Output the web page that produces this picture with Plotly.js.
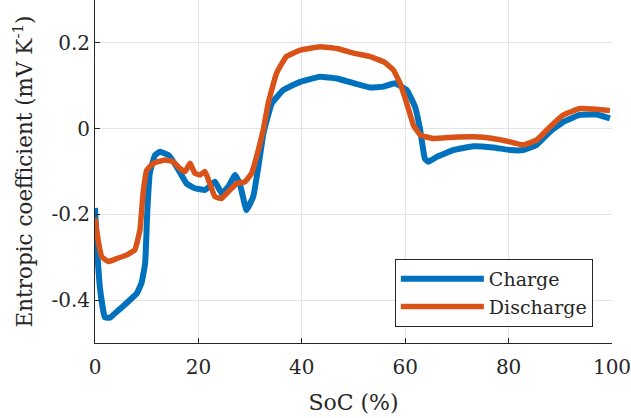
<!DOCTYPE html>
<html>
<head>
<meta charset="utf-8">
<script src="https://cdn.plot.ly/plotly-3.0.1.min.js"></script>
<style>html,body{margin:0;padding:0;background:#fff;}#chart{width:631px;height:418px;}</style>
</head>
<body>
<div id="chart"></div>
<script>
// Charge (blue)
const chargeSoC = [0, 0.3, 1, 1.9, 2.9, 4.2, 6.1, 8.1, 9, 9.7, 10.1, 10.6, 11.6, 12.6, 14.2, 15.8, 17.7, 19.3, 21.3, 23.2, 24.5, 25.8, 27.1, 28, 29.3, 30.6, 31.6, 32.6, 34.2, 36.4, 39.7, 43.5, 46.8, 50, 53.2, 55.8, 58, 60.3, 61.9, 62.9, 63.8, 64.5, 66.1, 69.3, 73.2, 77, 80.3, 82.8, 85.4, 88, 90.6, 93.8, 97, 99.6];
const chargeDS = [-0.185, -0.26, -0.376, -0.44, -0.441, -0.427, -0.407, -0.384, -0.36, -0.314, -0.197, -0.104, -0.062, -0.054, -0.062, -0.089, -0.128, -0.139, -0.143, -0.124, -0.151, -0.135, -0.108, -0.128, -0.19, -0.159, -0.089, -0.01, 0.059, 0.09, 0.109, 0.121, 0.117, 0.106, 0.096, 0.098, 0.106, 0.09, 0.051, -0.003, -0.07, -0.077, -0.066, -0.05, -0.041, -0.044, -0.05, -0.05, -0.038, -0.007, 0.016, 0.032, 0.033, 0.024];

// Discharge (orange)
const dischargeSoC = [0, 0.6, 1.3, 2.6, 4.2, 6.1, 7.7, 8.7, 9.3, 10, 11.3, 13.5, 15.1, 16.4, 17.4, 18.4, 19.3, 20.3, 21.3, 22.2, 23.2, 24.5, 25.8, 27.4, 29, 30.3, 31.6, 32.6, 33.5, 35.1, 37, 39.7, 43.5, 46.8, 50, 53.2, 55.8, 57.7, 59, 60.3, 61.6, 62.9, 65.4, 69.3, 73.2, 77, 80.3, 82.8, 85.4, 88, 90.6, 93.8, 97, 99.6];
const dischargeDS = [-0.209, -0.26, -0.299, -0.31, -0.303, -0.295, -0.283, -0.236, -0.151, -0.097, -0.081, -0.073, -0.077, -0.093, -0.1, -0.081, -0.104, -0.108, -0.1, -0.128, -0.159, -0.163, -0.147, -0.128, -0.124, -0.104, -0.05, 0.0, 0.059, 0.129, 0.168, 0.183, 0.191, 0.187, 0.176, 0.168, 0.156, 0.137, 0.106, 0.059, 0.008, -0.015, -0.023, -0.02, -0.019, -0.023, -0.031, -0.038, -0.027, 0.004, 0.032, 0.047, 0.045, 0.042];

const seriesNames = ['Charge', 'Discharge'];
const xTicks = [0, 20, 40, 60, 80, 100];
const yTicks = [-0.4, -0.2, 0, 0.2];
const yTickLabels = ['-0.4', '-0.2', '0', '0.2'];

const FONT = 'DejaVu Serif';
const INK = '#262626';

const traces = [
  {x: chargeSoC, y: chargeDS, name: seriesNames[0], type: 'scatter', mode: 'lines',
   line: {color: '#0072BD', width: 6, shape: 'spline', smoothing: 0.3}},
  {x: dischargeSoC, y: dischargeDS, name: seriesNames[1], type: 'scatter', mode: 'lines',
   line: {color: '#D95319', width: 5.5, shape: 'spline', smoothing: 0.3}}
];

const layout = {
  width: 631, height: 418,
  margin: {l: 95, r: 19, t: 0, b: 75},
  paper_bgcolor: '#fff', plot_bgcolor: '#fff',
  font: {family: FONT, color: INK, size: 20},
  showlegend: true,
  legend: {
    x: 0.963, y: 0.047, xanchor: 'right', yanchor: 'bottom',
    bgcolor: '#fff', bordercolor: INK, borderwidth: 1,
    font: {family: FONT, size: 19, color: INK},
    itemwidth: 83
  },
  xaxis: {
    range: [0, 100], tickvals: xTicks, ticktext: xTicks.map(String),
    showline: true, linecolor: INK, linewidth: 1,
    ticks: 'inside', ticklen: 5, tickcolor: INK,
    showgrid: true, gridcolor: '#e3e3e3', gridwidth: 1,
    zeroline: false, mirror: false,
    ticklabeloverflow: 'allow', ticklabelstandoff: 6,
    tickfont: {family: FONT, size: 20, color: INK},
    title: {text: 'SoC (%)', font: {family: FONT, size: 22, color: INK}, standoff: 16}
  },
  yaxis: {
    range: [-0.5, 0.3], tickvals: yTicks, ticktext: yTickLabels,
    showline: true, linecolor: INK, linewidth: 1,
    ticks: 'inside', ticklen: 5, tickcolor: INK,
    showgrid: true, gridcolor: '#e3e3e3', gridwidth: 1,
    zeroline: false, mirror: false,
    tickfont: {family: FONT, size: 20, color: INK},
    title: {text: 'Entropic coefficient (mV K<sup>-1</sup>)', font: {family: FONT, size: 21.5, color: INK}, standoff: 12}
  }
};

Plotly.newPlot('chart', traces, layout, {displayModeBar: false, staticPlot: true});
</script>
</body>
</html>
